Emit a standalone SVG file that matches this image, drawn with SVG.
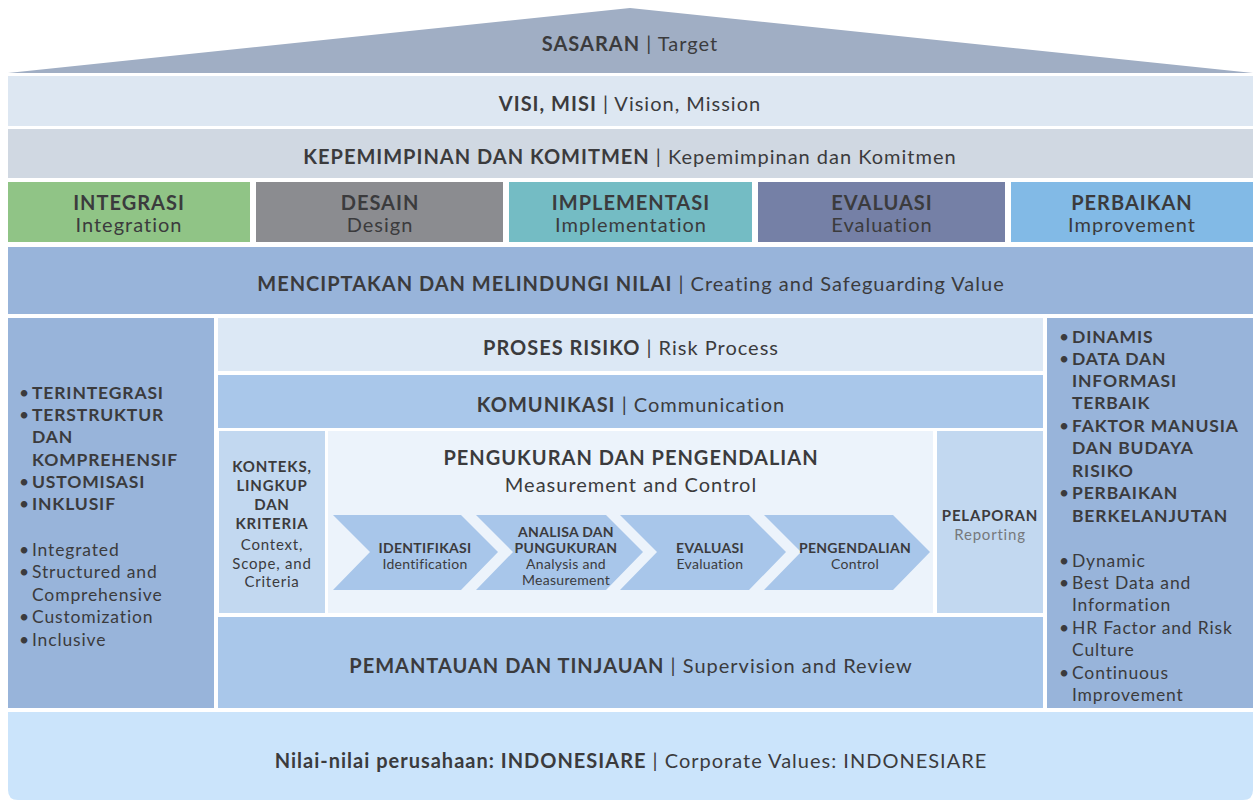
<svg xmlns="http://www.w3.org/2000/svg" width="1253" height="800" viewBox="0 0 1253 800">
<style>
text{font-family:Lato,"Open Sans","Liberation Sans",sans-serif;fill:#3b3b3d}
.c{text-anchor:middle}
.b{font-weight:700}
.t{font-size:20px;letter-spacing:1px}
.s{font-size:14px;letter-spacing:0.3px}
.m{font-size:15px;letter-spacing:0.8px}
.l{font-size:17.5px;letter-spacing:0.85px}
</style>
<rect width="1253" height="800" fill="#ffffff"/>
<g id="sasaran">
<polygon points="8,73 630,8 1253,73" fill="#a0aec4"/>
<text class="c t" x="630" y="51"><tspan class="b">SASARAN</tspan> | Target</text>
</g>
<g id="visi">
<rect x="8" y="76" width="1245" height="50" fill="#dde7f2"/>
<text class="c t" x="630" y="111"><tspan class="b">VISI, MISI</tspan> | Vision, Mission</text>
</g>
<g id="kepemimpinan">
<rect x="8" y="129" width="1245" height="49" fill="#d0d8e2"/>
<text class="c t" x="630" y="164"><tspan class="b">KEPEMIMPINAN DAN KOMITMEN</tspan> | Kepemimpinan dan Komitmen</text>
</g>
<g id="integrasi">
<rect x="8" y="182" width="242" height="60" fill="#90c486"/>
<text class="c t b" x="129" y="210">INTEGRASI</text>
<text class="c t" x="129" y="232">Integration</text>
</g>
<g id="desain">
<rect x="256" y="182" width="247" height="60" fill="#8b8c90"/>
<text class="c t b" x="380" y="210">DESAIN</text>
<text class="c t" x="380" y="232">Design</text>
</g>
<g id="implementasi">
<rect x="509" y="182" width="243" height="60" fill="#74bcc4"/>
<text class="c t b" x="631" y="210">IMPLEMENTASI</text>
<text class="c t" x="631" y="232">Implementation</text>
</g>
<g id="evaluasi">
<rect x="758" y="182" width="247" height="60" fill="#7580a6"/>
<text class="c t b" x="882" y="210">EVALUASI</text>
<text class="c t" x="882" y="232">Evaluation</text>
</g>
<g id="perbaikan">
<rect x="1011" y="182" width="242" height="60" fill="#82bae6"/>
<text class="c t b" x="1132" y="210">PERBAIKAN</text>
<text class="c t" x="1132" y="232">Improvement</text>
</g>
<g id="menciptakan">
<rect x="8" y="247" width="1245" height="67" fill="#98b4da"/>
<text class="c t" x="631" y="291"><tspan class="b">MENCIPTAKAN DAN MELINDUNGI NILAI</tspan> | Creating and Safeguarding Value</text>
</g>
<g id="prinsip">
<rect x="8" y="318" width="206" height="390" fill="#98b4da"/>
<g class="l">
<text x="19" y="399"><tspan>•</tspan><tspan x="32" class="b">TERINTEGRASI</tspan></text>
<text x="19" y="421"><tspan>•</tspan><tspan x="32" class="b">TERSTRUKTUR</tspan></text>
<text x="32" y="443" class="b">DAN</text>
<text x="32" y="466" class="b">KOMPREHENSIF</text>
<text x="19" y="488"><tspan>•</tspan><tspan x="32" class="b">USTOMISASI</tspan></text>
<text x="19" y="510"><tspan>•</tspan><tspan x="32" class="b">INKLUSIF</tspan></text>
<text x="19" y="556"><tspan>•</tspan><tspan x="32">Integrated</tspan></text>
<text x="19" y="578"><tspan>•</tspan><tspan x="32">Structured and</tspan></text>
<text x="32" y="601">Comprehensive</text>
<text x="19" y="623"><tspan>•</tspan><tspan x="32">Customization</tspan></text>
<text x="19" y="646"><tspan>•</tspan><tspan x="32">Inclusive</tspan></text>
</g>
</g>
<g id="proses">
<rect x="218" y="318" width="825" height="53" fill="#dce8f5"/>
<text class="c t" x="631" y="355"><tspan class="b">PROSES RISIKO</tspan> | Risk Process</text>
</g>
<g id="komunikasi">
<rect x="218" y="375" width="825" height="53" fill="#a9c7ea"/>
<text class="c t" x="631" y="412"><tspan class="b">KOMUNIKASI</tspan> | Communication</text>
</g>
<g id="konteks">
<rect x="219" y="431" width="106" height="182" fill="#c2d8f0"/>
<g class="m c">
<text class="b" x="272" y="472">KONTEKS,</text>
<text class="b" x="272" y="491">LINGKUP</text>
<text class="b" x="272" y="510">DAN</text>
<text class="b" x="272" y="529">KRITERIA</text>
<text x="272" y="550">Context,</text>
<text x="272" y="569">Scope, and</text>
<text x="272" y="587">Criteria</text>
</g>
</g>
<g id="pengukuran">
<rect x="328" y="431" width="605" height="182" fill="#ecf3fb"/>
<text class="c t b" x="631" y="465">PENGUKURAN DAN PENGENDALIAN</text>
<text class="c t" x="631" y="492">Measurement and Control</text>
</g>
<g id="identifikasi">
<polygon points="333,515 461,515 498,552 461,590 333,590 370,552" fill="#a8c6ea"/>
<text class="c s b" x="425" y="553">IDENTIFIKASI</text>
<text class="c s" x="425" y="569">Identification</text>
</g>
<g id="analisa">
<polygon points="476,515 606,515 643,552 606,590 476,590 513,552" fill="#a8c6ea"/>
<text class="c s b" x="566" y="537">ANALISA DAN</text>
<text class="c s b" x="566" y="553">PUNGUKURAN</text>
<text class="c s" x="566" y="569">Analysis and</text>
<text class="c s" x="566" y="585">Measurement</text>
</g>
<g id="evaluasi2">
<polygon points="620,515 749,515 786,552 749,590 620,590 657,552" fill="#a8c6ea"/>
<text class="c s b" x="710" y="553">EVALUASI</text>
<text class="c s" x="710" y="569">Evaluation</text>
</g>
<g id="pengendalian">
<polygon points="764,515 893,515 930,552 893,590 764,590 801,552" fill="#a8c6ea"/>
<text class="c s b" x="855" y="553">PENGENDALIAN</text>
<text class="c s" x="855" y="569">Control</text>
</g>
<g id="pelaporan">
<rect x="937" y="431" width="106" height="182" fill="#c2d8f0"/>
<text class="c m b" x="990" y="521">PELAPORAN</text>
<text class="c m" x="990" y="540" style="fill:#76787c">Reporting</text>
</g>
<g id="pemantauan">
<rect x="218" y="617" width="825" height="91" fill="#a9c7ea"/>
<text class="c t" x="631" y="673"><tspan class="b">PEMANTAUAN DAN TINJAUAN</tspan> | Supervision and Review</text>
</g>
<g id="karakteristik">
<rect x="1047" y="318" width="206" height="390" fill="#98b4da"/>
<g class="l">
<text x="1059" y="343"><tspan>•</tspan><tspan x="1072" class="b">DINAMIS</tspan></text>
<text x="1059" y="365"><tspan>•</tspan><tspan x="1072" class="b">DATA DAN</tspan></text>
<text x="1072" y="387" class="b">INFORMASI</text>
<text x="1072" y="409" class="b">TERBAIK</text>
<text x="1059" y="432"><tspan>•</tspan><tspan x="1072" class="b">FAKTOR MANUSIA</tspan></text>
<text x="1072" y="454" class="b">DAN BUDAYA</text>
<text x="1072" y="477" class="b">RISIKO</text>
<text x="1059" y="499"><tspan>•</tspan><tspan x="1072" class="b">PERBAIKAN</tspan></text>
<text x="1072" y="522" class="b">BERKELANJUTAN</text>
<text x="1059" y="567"><tspan>•</tspan><tspan x="1072">Dynamic</tspan></text>
<text x="1059" y="589"><tspan>•</tspan><tspan x="1072">Best Data and</tspan></text>
<text x="1072" y="611">Information</text>
<text x="1059" y="634"><tspan>•</tspan><tspan x="1072">HR Factor and Risk</tspan></text>
<text x="1072" y="656">Culture</text>
<text x="1059" y="679"><tspan>•</tspan><tspan x="1072">Continuous</tspan></text>
<text x="1072" y="701">Improvement</text>
</g>
</g>
<g id="nilai">
<path d="M8,712 H1253 V790 Q1253,800 1243,800 H18 Q8,800 8,790 Z" fill="#cbe4fb"/>
<text class="c t" x="631" y="768"><tspan class="b">Nilai-nilai perusahaan: INDONESIARE</tspan> | Corporate Values: INDONESIARE</text>
</g>
<g id="connectors"></g>
</svg>
